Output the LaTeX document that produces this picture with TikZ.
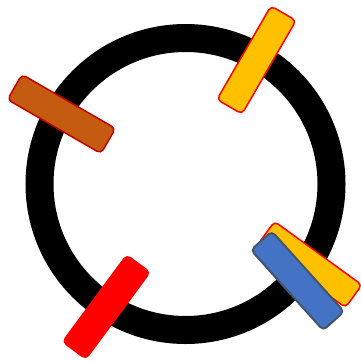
\documentclass[tikz,border=0pt]{standalone}
\definecolor{brownfill}{HTML}{C55A11}
\definecolor{darkred}{HTML}{C00000}
\definecolor{gold}{HTML}{FFC000}
\definecolor{bluefill}{HTML}{4472C4}
\definecolor{slate}{HTML}{44546A}
\begin{document}
\begin{tikzpicture}[x=1pt,y=1pt,
  bar/.style={draw, rectangle, rounded corners=4.5pt, inner sep=0pt, minimum width=108pt, minimum height=29pt, line width=1.5pt}]
\useasboundingbox (0,0) rectangle (361,360);
\draw[line width=28pt] (185.5,176) circle[radius=146];
\node[bar, fill=brownfill, draw=darkred, rotate=-30] (brown) at (61.5,246) {};
\node[bar, fill=gold, draw=red, rotate=60] (goldtop) at (256.5,300) {};
\node[bar, fill=red, draw=red, rotate=53.5] (redbar) at (106.3,53) {};
\node[bar, fill=gold, draw=red, minimum height=28pt, rotate=-36] (goldbr) at (310,95.5) {};
\node[bar, fill=bluefill, draw=slate, line width=2pt, minimum height=28pt, rotate=-48] (bluebar) at (297.5,79.2) {};
\end{tikzpicture}
\end{document}
